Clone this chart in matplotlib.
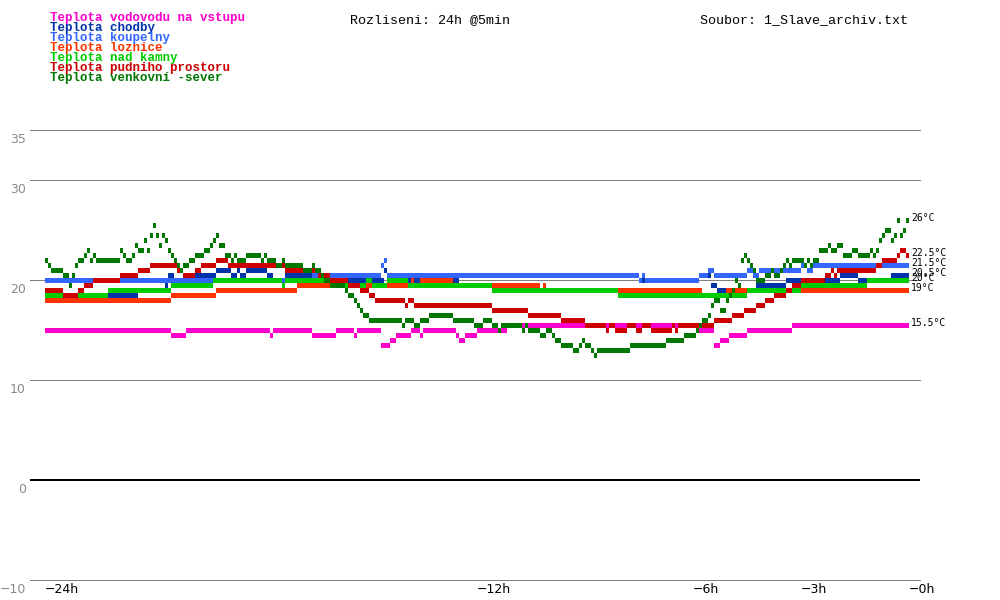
import numpy as np
import matplotlib
matplotlib.use("Agg")
import matplotlib.pyplot as plt

# ---------------- data: 5-minute samples over 24 h, stored as (value, count) runs --------------
STEP_H = 5 / 60.0

vodovod = [(15.0, 42), (14.5, 5), (15.0, 28), (14.5, 1), (15.0, 13), (14.5, 8), (15.0, 6),
           (14.5, 1), (15.0, 8), (13.5, 3), (14.0, 2), (14.5, 5), (15.0, 3), (14.5, 1),
           (15.0, 11), (14.5, 1), (14.0, 2), (14.5, 4), (15.0, 10), (15.5, 64), (15.0, 5),
           (13.5, 2), (14.0, 3), (14.5, 6), (15.0, 15), (15.5, 39)]

chodby = [(18.5, 31), (19.0, 9), (19.5, 1), (20.5, 2), (20.0, 7), (20.5, 7), (21.0, 5),
          (20.5, 2), (21.0, 1), (20.5, 2), (21.0, 7), (20.5, 2), (20.0, 4), (20.5, 21),
          (20.0, 12), (21.0, 1), (20.0, 24), (20.5, 60), (20.0, 20), (20.5, 4), (19.5, 2),
          (19.0, 13), (19.5, 10), (20.0, 18), (20.5, 6), (20.0, 11), (20.5, 6)]

koupelny = [(20.0, 89), (20.5, 23), (21.5, 1), (22.0, 1), (20.5, 84), (20.0, 1), (20.5, 1),
            (20.0, 18), (20.5, 3), (21.0, 2), (20.5, 11), (21.0, 2), (20.5, 2), (21.0, 14),
            (21.5, 2), (21.0, 2), (21.5, 32)]

loznice = [(18.0, 42), (18.5, 15), (19.0, 27), (19.5, 38), (20.0, 1), (19.5, 2), (20.0, 11),
           (19.5, 29), (19.0, 1), (19.5, 1), (19.0, 52), (18.5, 8), (19.0, 61)]

nad_kamny = [(18.5, 21), (19.0, 21), (19.5, 14), (20.0, 23), (19.5, 1), (20.0, 20), (19.5, 7),
             (20.0, 2), (19.5, 5), (20.0, 7), (19.5, 28), (19.0, 42), (18.5, 43), (19.0, 18),
             (19.5, 22), (20.0, 14)]

pudni = [(19.0, 6), (18.5, 5), (19.0, 2), (19.5, 3), (20.0, 9), (20.5, 6), (21.0, 4), (21.5, 9),
         (21.0, 2), (20.5, 4), (21.0, 2), (21.5, 5), (22.0, 4), (21.5, 19), (21.0, 11),
         (20.5, 4), (20.0, 6), (19.5, 4), (19.0, 3), (18.5, 2), (18.0, 10), (17.5, 1),
         (18.0, 2), (17.5, 26), (17.0, 12), (16.5, 11), (16.0, 8), (15.5, 7), (15.0, 1),
         (15.5, 2), (15.0, 4), (15.5, 3), (15.0, 2), (15.5, 3), (15.0, 7), (15.5, 1),
         (15.0, 1), (15.5, 12), (16.0, 6), (16.5, 4), (17.0, 4), (17.5, 3), (18.0, 3),
         (18.5, 4), (19.0, 2), (19.5, 3), (20.0, 8), (20.5, 2), (21.0, 1), (20.5, 1),
         (21.0, 13), (21.5, 2), (22.0, 5), (22.5, 1), (23.0, 2), (22.5, 1)]

venkovni = [(22.0, 1), (21.5, 1), (21.0, 4), (20.5, 2), (19.5, 1), (20.5, 1), (21.5, 1),
            (22.0, 2), (22.5, 1), (23.0, 1), (22.0, 1), (22.5, 1), (22.0, 8), (23.0, 1),
            (22.5, 1), (22.0, 2), (22.5, 1), (23.5, 1), (23.0, 2), (24.0, 1), (23.0, 1),
            (24.5, 1), (25.5, 1), (24.5, 1), (23.5, 1), (24.5, 1), (24.0, 1), (23.0, 1),
            (22.5, 1), (22.0, 1), (21.5, 1), (21.0, 1), (21.5, 2), (22.0, 2), (22.5, 3),
            (23.0, 2), (23.5, 1), (24.0, 1), (24.5, 1), (23.5, 2), (22.5, 2), (22.0, 1),
            (22.5, 1), (22.0, 3), (22.5, 5), (22.0, 1), (22.5, 1), (22.0, 3), (21.5, 2),
            (22.0, 1), (21.5, 6), (21.0, 3), (21.5, 1), (21.0, 2), (20.5, 1), (20.0, 2),
            (19.5, 5), (19.0, 1), (18.5, 2), (18.0, 1), (17.5, 1), (17.0, 1), (16.5, 2),
            (16.0, 11), (15.5, 1), (16.0, 3), (15.5, 2), (16.0, 3), (16.5, 8), (16.0, 7),
            (15.5, 3), (16.0, 3), (15.5, 2), (15.0, 1), (15.5, 7), (15.0, 1), (15.5, 1),
            (15.0, 4), (14.5, 2), (15.0, 2), (14.5, 1), (14.0, 2), (13.5, 4), (13.0, 2),
            (13.5, 1), (14.0, 1), (13.5, 2), (13.0, 1), (12.5, 1), (13.0, 11), (13.5, 12),
            (14.0, 6), (14.5, 4), (15.0, 1), (15.5, 1), (16.0, 2), (16.5, 1), (17.5, 1),
            (18.0, 2), (17.0, 2), (18.0, 1), (18.5, 1), (19.0, 1), (20.0, 1), (19.5, 1),
            (22.0, 1), (22.5, 1), (22.0, 1), (21.5, 1), (21.0, 1), (20.0, 3), (20.5, 2),
            (21.0, 1), (20.5, 2), (21.0, 1), (21.5, 1), (22.0, 1), (21.5, 1), (22.0, 4),
            (21.5, 1), (22.0, 1), (21.5, 1), (22.0, 2), (23.0, 3), (23.5, 1), (23.0, 2),
            (23.5, 2), (22.5, 3), (23.0, 2), (22.5, 4), (23.0, 1), (22.5, 1), (23.0, 1),
            (24.0, 1), (24.5, 1), (25.0, 2), (24.0, 1), (24.5, 1), (26.0, 1), (24.5, 1),
            (25.0, 1), (26.0, 1)]

names = ["Teplota vodovodu na vstupu", "Teplota chodby", "Teplota koupelny",
         "Teplota loznice", "Teplota nad kamny", "Teplota pudniho prostoru",
         "Teplota venkovní -sever"]
colors = ["#ff00cc", "#0033aa", "#3366ff", "#ff3300", "#00cc00", "#cc0000", "#007700"]
all_runs = [vodovod, chodby, koupelny, loznice, nad_kamny, pudni, venkovni]

y_ticks = [35, 30, 20, 10, 0, -10]
x_ticks = [-24, -12, -6, -3, 0]
x_labels = ["\u221224h", "\u221212h", "\u22126h", "\u22123h", "\u22120h"]
header_left = "Rozliseni: 24h @5min"
header_right = "Soubor: 1_Slave_archiv.txt"

# ---------------- figure ----------------
W, H = 1000, 600
fig = plt.figure(figsize=(W / 100, H / 100), dpi=100)
fig.patch.set_facecolor("white")
# plot area: x 45..909 px (-24h..0h), y 130..580 px (35..-10 degC)
ax = fig.add_axes([45 / W, 20 / H, 864 / W, 450 / H])
ax.set_xlim(-24, 0)
ax.set_ylim(-10, 35)
ax.axis("off")

PX_X = 24 / 864.0   # hours per pixel
PX_Y = 45 / 450.0   # degrees per pixel

x_left = -24 - 15 * PX_X
x_right = 11 * PX_X
for yv in y_ticks:
    if yv == 0:
        ax.plot([x_left, x_right], [yv, yv], color="black", lw=1.4,
                clip_on=False, antialiased=False, zorder=1, solid_capstyle="butt")
    else:
        ax.plot([x_left, x_right], [yv, yv], color="#808080", lw=0.6,
                clip_on=False, antialiased=False, zorder=1, solid_capstyle="butt")
    lab = str(yv).replace("-", "\u2212")
    ax.text(-24 - 19 * PX_X, yv - 13 * PX_Y, lab, ha="right", va="baseline",
            color="#8a8a8a", fontsize=9, family="DejaVu Sans", clip_on=False)

for xv, xl in zip(x_ticks, x_labels):
    ax.text(xv, -10 - 13 * PX_Y, xl, ha="left", va="baseline", color="black",
            fontsize=9, family="DejaVu Sans", clip_on=False)

# series blocks
for k, (runs, col) in enumerate(zip(all_runs, colors)):
    vals = np.repeat([v for v, c in runs], [c for v, c in runs]).astype(float)
    t = -24 + np.arange(len(vals)) * STEP_H
    ax.bar(t, 0.5, width=STEP_H, bottom=vals - 0.3, align="edge", color=col,
           linewidth=0, antialiased=False, zorder=2 + k)
    last = vals[-1]
    lab = (f"{last:.1f}".rstrip("0").rstrip(".")) + "°C"
    ax.text(2 * PX_X, last - 1 * PX_Y, lab, ha="left", va="baseline", color="black",
            fontsize=7, family="DejaVu Sans Mono", clip_on=False, zorder=20)

# legend (top-left, one line per series)
for k, (nm, col) in enumerate(zip(names, colors)):
    fig.text(50 / W, 1 - (21 + 10 * k) / H, nm, ha="left", va="baseline", color=col,
             fontsize=9, family="Liberation Mono", weight="bold")

fig.text(350 / W, 1 - 23 / H, header_left, ha="left", va="baseline", color="black",
         fontsize=9.6, family="Liberation Mono")
fig.text(700 / W, 1 - 23 / H, header_right, ha="left", va="baseline", color="black",
         fontsize=9.6, family="Liberation Mono")

fig.savefig("out.png", dpi=100, facecolor="white")
